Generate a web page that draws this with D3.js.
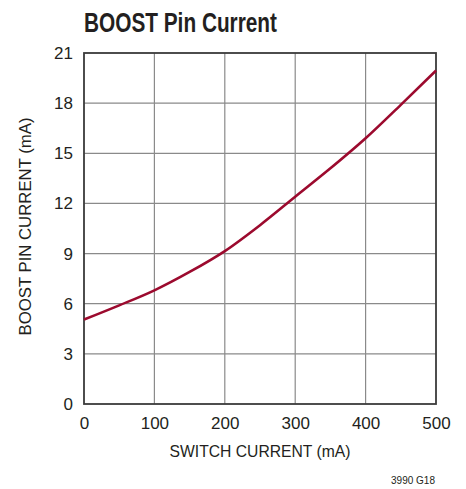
<!DOCTYPE html>
<html>
<head>
<meta charset="utf-8">
<script src="https://cdn.jsdelivr.net/npm/d3@7"></script>
<style>
	body { margin: 0; background: #fff; }
	text { font-family: "Liberation Sans Narrow", "Liberation Sans", sans-serif; fill: #231f20; }
</style>
</head>
<body>
<div id="chart"></div>
<script>
// values
const switchCurrent = [0, 50, 100, 150, 200, 250, 300, 350, 400, 450, 500];
const boostCurrent = [5.05, 5.9, 6.8, 7.9, 9.15, 10.7, 12.4, 14.1, 15.9, 17.9, 19.95];
const xTicks = [0, 100, 200, 300, 400, 500];
const yTicks = [0, 3, 6, 9, 12, 15, 18, 21];

const width = 466;
const height = 489;
const margin = { top: 53, right: 30, bottom: 85, left: 84 };
const plotW = width - margin.left - margin.right;
const plotH = height - margin.top - margin.bottom;

const svg = d3.select('#chart')
	.append('svg')
	.attr('width', width)
	.attr('height', height);

const x = d3.scaleLinear().domain([0, 500]).range([0, plotW]);
const y = d3.scaleLinear().domain([0, 21]).range([plotH, 0]);

const g = svg.append('g')
	.attr('transform', `translate(${margin.left},${margin.top})`);

// grid
g.selectAll('.vgrid')
	.data(xTicks.slice(1, -1))
	.join('line')
	.attr('x1', (d) => x(d))
	.attr('x2', (d) => x(d))
	.attr('y1', 0)
	.attr('y2', plotH)
	.attr('stroke', '#8a8a8a')
	.attr('stroke-width', 1.2);

g.selectAll('.hgrid')
	.data(yTicks.slice(1, -1))
	.join('line')
	.attr('x1', 0)
	.attr('x2', plotW)
	.attr('y1', (d) => y(d))
	.attr('y2', (d) => y(d))
	.attr('stroke', '#8a8a8a')
	.attr('stroke-width', 1.2);

// frame
g.append('rect')
	.attr('width', plotW)
	.attr('height', plotH)
	.attr('fill', 'none')
	.attr('stroke', '#3a3a3a')
	.attr('stroke-width', 1.8);

// tick labels via d3 axes, no lines
const xAxis = g.append('g')
	.attr('transform', `translate(0,${plotH})`)
	.call(d3.axisBottom(x).tickValues(xTicks).tickSize(0).tickPadding(10));
const yAxis = g.append('g')
	.call(d3.axisLeft(y).tickValues(yTicks).tickSize(0).tickPadding(11));
[xAxis, yAxis].forEach((a) => {
	a.select('.domain').remove();
	a.selectAll('text')
		.attr('font-size', 17)
		.attr('font-family', '"Liberation Sans Narrow", "Liberation Sans", sans-serif')
		.attr('fill', '#231f20');
});
xAxis.selectAll('text').attr('dy', '0.9em');

// curve
const line = d3.line()
	.x((d, i) => x(switchCurrent[i]))
	.y((d) => y(d))
	.curve(d3.curveMonotoneX);

g.append('path')
	.datum(boostCurrent)
	.attr('d', line)
	.attr('fill', 'none')
	.attr('stroke', '#9c0a2e')
	.attr('stroke-width', 2.6);

// titles
svg.append('text')
	.attr('x', 84)
	.attr('y', 32)
	.attr('font-size', 27)
	.attr('font-weight', 'bold')
	.attr('textLength', 193)
	.attr('lengthAdjust', 'spacingAndGlyphs')
	.text('BOOST Pin Current');

svg.append('text')
	.attr('x', margin.left + plotW / 2)
	.attr('y', 457)
	.attr('text-anchor', 'middle')
	.attr('font-size', 17)
	.attr('textLength', 181)
	.attr('lengthAdjust', 'spacingAndGlyphs')
	.text('SWITCH CURRENT (mA)');

svg.append('text')
	.attr('transform', `translate(31,${margin.top + plotH / 2 - 2}) rotate(-90)`)
	.attr('text-anchor', 'middle')
	.attr('font-size', 17)
	.attr('textLength', 218)
	.attr('lengthAdjust', 'spacingAndGlyphs')
	.text('BOOST PIN CURRENT (mA)');

svg.append('text')
	.attr('x', 435)
	.attr('y', 484)
	.attr('text-anchor', 'end')
	.attr('font-size', 10)
	.text('3990 G18');
</script>
</body>
</html>
